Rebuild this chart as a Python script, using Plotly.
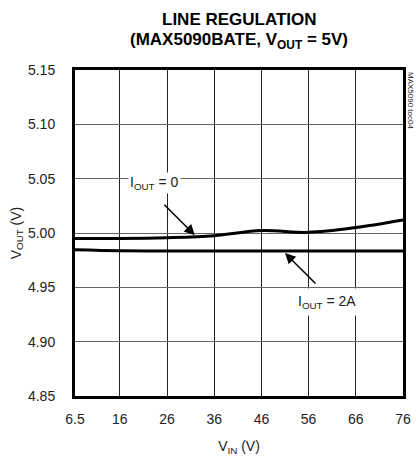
import plotly.graph_objects as go

vin = [6.5, 16, 26, 36, 46, 56, 66, 76]
vout_i0 = [4.995, 4.995, 4.9957, 4.9975, 5.0022, 5.0006, 5.005, 5.012]
vout_i2a = [4.9845, 4.9836, 4.9835, 4.9835, 4.9835, 4.9835, 4.9835, 4.9835]
y_ticks = [4.85, 4.90, 4.95, 5.00, 5.05, 5.10, 5.15]
x_ticks = [6.5, 16, 26, 36, 46, 56, 66, 76]

FONT = "Liberation Sans, Arial, sans-serif"

fig = go.Figure()
fig.add_trace(go.Scatter(x=vin, y=vout_i0, mode="lines", line=dict(color="black", width=3, shape="spline"), showlegend=False))
fig.add_trace(go.Scatter(x=vin, y=vout_i2a, mode="lines", line=dict(color="black", width=3, shape="spline"), showlegend=False))

fig.update_layout(
    width=416, height=459,
    margin=dict(l=75, r=13, t=70, b=63),
    paper_bgcolor="white", plot_bgcolor="white",
    font=dict(family=FONT, size=14, color="#222"),
    xaxis=dict(range=[6.5, 76], tickvals=x_ticks, ticktext=[str(v) for v in x_ticks],
               showgrid=True, gridcolor="#222", gridwidth=1, zeroline=False,
               showline=True, linecolor="black", linewidth=3, mirror=True,
               ticks="", ticklabelstandoff=8, automargin=False,
               title=dict(text="V<sub>IN</sub> (V)", standoff=16, font=dict(size=14))),
    yaxis=dict(range=[4.85, 5.15], tickvals=y_ticks, ticktext=[f"{v:.2f}" for v in y_ticks],
               showgrid=True, gridcolor="#666", gridwidth=1, zeroline=False,
               showline=True, linecolor="black", linewidth=3, mirror=True,
               ticks="", ticklabelstandoff=14, automargin=False,
               title=dict(text="V<sub>OUT</sub> (V)", standoff=4, font=dict(size=14))),
)

anns = [
    dict(text="<b>LINE REGULATION</b>", x=0.5, y=1, xref="paper", yref="paper", yanchor="middle",
         yshift=51, showarrow=False, font=dict(size=17, color="black")),
    dict(text="<b>(MAX5090BATE, V<sub>OUT</sub> = 5V)</b>", x=0.5, y=1, xref="paper", yref="paper",
         yanchor="middle", yshift=29, showarrow=False, font=dict(size=17, color="black")),
    dict(text="MAX5090 toc04", x=1, y=1, xref="paper", yref="paper", xanchor="left", yanchor="top",
         xshift=1, textangle=90, showarrow=False, font=dict(size=8, color="#222")),
    dict(text="I<sub>OUT</sub> = 0", x=23.45, y=5.046, showarrow=False, bgcolor="white",
         font=dict(size=14)),
    dict(text="I<sub>OUT</sub> = 2A", x=59.9, y=4.9365, showarrow=False, bgcolor="white",
         borderpad=4, font=dict(size=14)),
    dict(text="", x=31.9, y=4.998, ax=-32, ay=-32, showarrow=True, arrowhead=2,
         arrowsize=1.4, arrowwidth=1.5, arrowcolor="black"),
    dict(text="", x=51.0, y=4.9816, ax=32, ay=32, showarrow=True, arrowhead=2,
         arrowsize=1.4, arrowwidth=1.5, arrowcolor="black"),
]
fig.update_layout(annotations=anns)
fig.write_html("out.html", config={"displayModeBar": False},
               post_script="document.body.style.margin='0';")
